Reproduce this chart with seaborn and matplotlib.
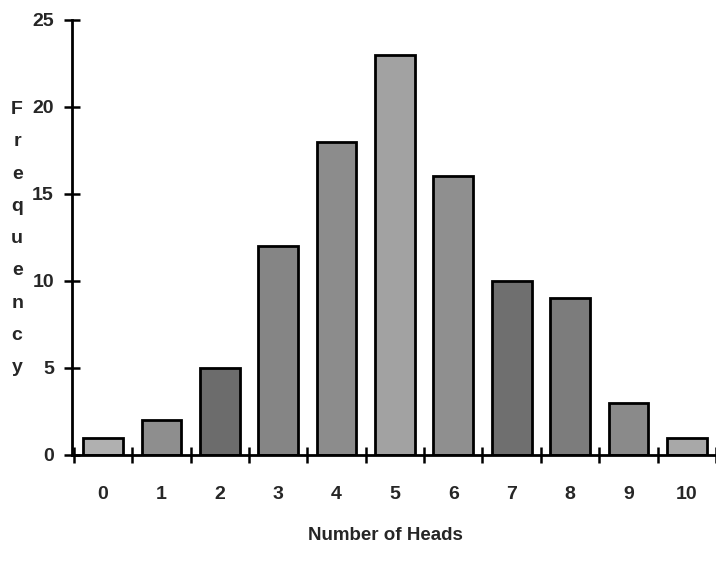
import matplotlib
matplotlib.use("Agg")
import matplotlib.pyplot as plt
import seaborn as sns
import pandas as pd

# chart data
heads = [0, 1, 2, 3, 4, 5, 6, 7, 8, 9, 10]
frequency = [1, 2, 5, 12, 18, 23, 16, 10, 9, 3, 1]
bar_colors = ["#b0b0b0", "#8e8e8e", "#6c6c6c", "#858585", "#8c8c8c", "#a2a2a2",
              "#8f8f8f", "#6f6f6f", "#7c7c7c", "#8a8a8a", "#a8a8a8"]

df = pd.DataFrame({"heads": [str(h) for h in heads], "freq": frequency})

sns.set_style("white")
plt.rcParams["font.family"] = ["Liberation Sans", "DejaVu Sans"]

fig = plt.figure(figsize=(7.16, 5.75), dpi=100)
ax = fig.add_axes([0.1006, 0.2087, 0.8994, 0.757])

sns.barplot(data=df, x="heads", y="freq", hue="heads", palette=bar_colors,
            legend=False, width=0.68, edgecolor="black", linewidth=2, ax=ax,
            saturation=1)

ax.set_xlim(-0.53, 10.47)
ax.set_ylim(0, 25)
ax.set_yticks([0, 5, 10, 15, 20, 25])
ax.set_xticks(range(11))
ax.set_xticks([i + 0.5 for i in range(-1, 11)], minor=True)

for side in ["top", "right"]:
    ax.spines[side].set_visible(False)
for side in ["left", "bottom"]:
    ax.spines[side].set_linewidth(2)
    ax.spines[side].set_color("black")

ax.tick_params(axis="x", which="major", length=0, pad=22, labelsize=14, bottom=True)
ax.tick_params(axis="x", which="minor", length=12, width=1.8, direction="inout",
               color="black", bottom=True)
ax.tick_params(axis="y", length=12, width=1.8, direction="inout", pad=7, labelsize=14,
               left=True, color="black")
for lab in ax.get_xticklabels() + ax.get_yticklabels():
    lab.set_fontweight("bold")

ax.set_xlabel("")
ax.set_ylabel("")
fig.text(0.538, 0.068, "Number of Heads", ha="center", va="center",
         fontsize=13.5, fontweight="bold")
fig.text(0.024, 0.585, "\n".join("Frequency"), ha="center", va="center",
         fontsize=14, fontweight="bold", linespacing=2.17)

plt.savefig("out.png", dpi=100)
